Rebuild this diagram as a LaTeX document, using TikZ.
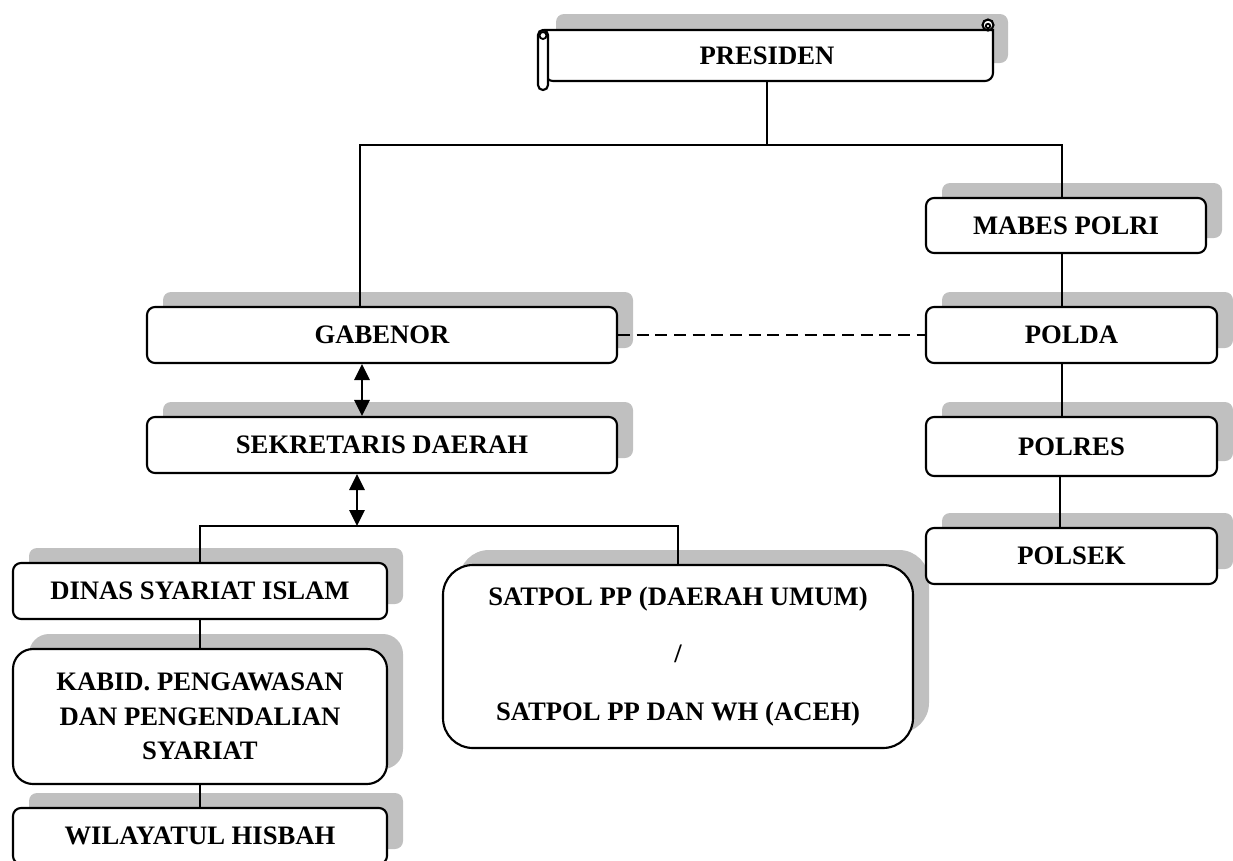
\documentclass[tikz,border=0pt]{standalone}
\usepackage{fontspec}
\setmainfont{Liberation Serif}
\usetikzlibrary{shadows,arrows.meta}
\definecolor{shadegray}{RGB}{192,192,192}

\tikzset{every picture/.style={line width=1.4pt}}
\tikzset{
  box/.style={draw, line width=1.6pt, fill=white, rounded corners=6pt, inner sep=0pt, align=center,
    font=\fontsize{20}{26}\selectfont\bfseries,
    drop shadow={shadow xshift=12pt, shadow yshift=11.25pt, fill=shadegray, opacity=1}},
  twoway/.style={line width=1.6pt, {Triangle[length=12pt,width=11.5pt]}-{Triangle[length=12pt,width=11.5pt]}},
  dashlink/.style={dash pattern=on 9pt off 5pt}
}

\begin{document}
\begin{tikzpicture}[x=0.75pt,y=0.75pt,yscale=-1,xscale=1]
	\useasboundingbox (0,0) rectangle (1233,861);

	%Shape: Horizontal Scroll shadow
	\fill [shadegray, rounded corners=6pt] (556,14) rectangle (1008,63);
	%Shape: Horizontal Scroll body
	\draw [fill=white, line width=1.6pt] (545,81) -- (545,30) -- (993,30) {[rounded corners=6pt] -- (993,81) -- (545,81)} -- cycle ;
	\draw [fill=white, line width=1.6pt] (988,25) circle (5.5) ;
	\draw (988,26) circle (2.2) ;
	\draw [fill=white, line width=1.6pt, rounded corners=3.7pt] (538,30) rectangle (548,90) ;
	\draw (543,35.5) circle (3.5) ;
	% Text Node
	\node [minimum width=333.75pt, minimum height=38.25pt, inner sep=0pt, font=\fontsize{20}{26}\selectfont\bfseries] (pres) at (767,55.5) {PRESIDEN};

	% left branch
	\node [box, minimum width=352.5pt, minimum height=42pt] (gab) at (382,335) {GABENOR};
	\node [box, minimum width=352.5pt, minimum height=42pt] (sek) at (382,445) {SEKRETARIS DAERAH};
	\node [box, minimum width=280.5pt, minimum height=42pt] (din) at (200,591) {DINAS SYARIAT ISLAM};
	\node [box, rounded corners=15pt, minimum width=280.5pt, minimum height=101.25pt] (kab) at (200,716.5) {KABID. PENGAWASAN\\DAN PENGENDALIAN\\SYARIAT};
	\node [box, minimum width=280.5pt, minimum height=42pt] (wil) at (200,836) {WILAYATUL HISBAH};
	\node [box, rounded corners=22.5pt, minimum width=352.5pt, minimum height=137.25pt] (sat) at (678,656.5) {SATPOL PP (DAERAH UMUM)\\[17pt]/\\[17pt]SATPOL PP DAN WH (ACEH)};

	% right branch
	\node [box, minimum width=210pt, minimum height=41.25pt] (mab) at (1066,225.5) {MABES POLRI};
	\node [box, minimum width=218.25pt, minimum height=42pt] (pol) at (1071.5,335) {POLDA};
	\node [box, minimum width=218.25pt, minimum height=44.25pt] (polres) at (1071.5,446.5) {POLRES};
	\node [box, minimum width=218.25pt, minimum height=42pt] (polsek) at (1071.5,556) {POLSEK};

	\coordinate (bus) at (767,145);
	\coordinate (bus2) at (357,526);
	\coordinate (rx) at (1062,0);

	%Straight Lines
	\draw (pres.south) -- (bus) ;
	\draw ([xshift=-16.5pt]gab.north) |- (bus) -| (rx |- mab.north) ;
	\draw (rx |- mab.south) -- (rx |- pol.north) ;
	\draw (rx |- pol.south) -- (rx |- polres.north) ;
	\draw ([xshift=-8.5pt]polres.south) -- ([xshift=-8.5pt]polsek.north) ;
	\draw [dashlink] (gab.east) -- (pol.west) ;
	\draw [twoway] ([xshift=-15pt]gab.south) -- ([xshift=-15pt]sek.north) ;
	\draw [twoway] (sek.south -| bus2) -- (bus2) ;
	\draw (din.north) |- (bus2) -| (sat.north) ;
	\draw (din.south) -- (kab.north) ;
	\draw (kab.south) -- (wil.north) ;

\end{tikzpicture}
\end{document}
